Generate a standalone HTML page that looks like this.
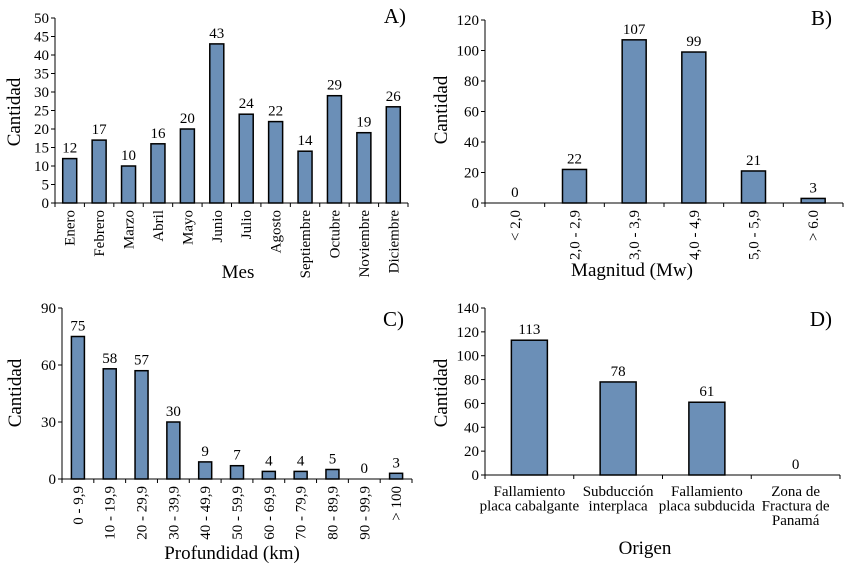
<!DOCTYPE html>
<html><head><meta charset="utf-8"><style>
body{margin:0;background:#fff;}
svg, svg text{font-family:"Liberation Serif","Times New Roman",Times,serif;}
</style></head><body>
<svg id="c" width="850" height="567"></svg>
<script>
const catsA=["Enero","Febrero","Marzo","Abril","Mayo","Junio","Julio","Agosto","Septiembre","Octubre","Noviembre","Diciembre"];
const valsA=[12,17,10,16,20,43,24,22,14,29,19,26];
const ticksA=[0,5,10,15,20,25,30,35,40,45,50];
const catsB=["< 2,0","2,0 - 2,9","3,0 - 3,9","4,0 - 4,9","5,0 - 5,9","> 6.0"];
const valsB=[0,22,107,99,21,3];
const ticksB=[0,20,40,60,80,100,120];
const catsC=["0 - 9,9","10 - 19,9","20 - 29,9","30 - 39,9","40 - 49,9","50 - 59,9","60 - 69,9","70 - 79,9","80 - 89,9","90 - 99,9","> 100"];
const valsC=[75,58,57,30,9,7,4,4,5,0,3];
const ticksC=[0,30,60,90];
const catsD=[["Fallamiento","placa cabalgante"],["Subducción","interplaca"],["Fallamiento","placa subducida"],["Zona de","Fractura de","Panamá"]];
const valsD=[113,78,61,0];
const ticksD=[0,20,40,60,80,100,120,140];

const svg=document.getElementById('c');
const NS="http://www.w3.org/2000/svg";
const FF="'Liberation Serif', 'Times New Roman', serif";
function mk(t,a,txt){const e=document.createElementNS(NS,t);for(const k in a)e.setAttribute(k,a[k]);if(t==='text')e.setAttribute('font-family',FF);if(txt!==undefined)e.textContent=txt;svg.appendChild(e);return e;}

function panel(p){
  const {x0,x1,y0,yTop,max,ticks,cats,vals,bw,rot,key,letter,lx,ly,xt,xtx,xty,ytx,yty}=p;
  const n=cats.length, cw=(x1-x0)/n;
  const ys=v=>y0-(v/max)*(y0-yTop);
  const xs=i=>x0+cw*(i+0.5);
  let e=mk('line',{x1:x0,y1:yTop,x2:x0,y2:y0,stroke:'#000','stroke-width':1});
  
  e=mk('line',{x1:x0,y1:y0,x2:x1,y2:y0,stroke:'#000','stroke-width':1});
  
  ticks.forEach(t=>{
    e=mk('line',{x1:x0-4,y1:ys(t),x2:x0,y2:ys(t),stroke:'#000'});
    
    e=mk('text',{x:x0-6,y:ys(t)+5,'text-anchor':'end','font-size':15},String(t));
    
  });
  for(let i=0;i<=n;i++){
    e=mk('line',{x1:x0+cw*i,y1:y0,x2:x0+cw*i,y2:y0+4,stroke:'#000'});
    
  }
  cats.forEach((c,i)=>{
    const v=vals[i];
    if(v>0){
      e=mk('rect',{x:xs(i)-bw/2,y:ys(v),width:bw,height:y0-ys(v),fill:'#6b8fb7',stroke:'#000','stroke-width':1.5});
      
    }
    e=mk('text',{x:xs(i),y:ys(v)-6,'text-anchor':'middle','font-size':15},String(v));
    
    if(rot){
      e=mk('text',{x:0,y:0,'text-anchor':'end','font-size':15,transform:`translate(${xs(i)+5},${y0+7}) rotate(-90)`},c);
    } else {
      e=mk('text',{x:xs(i),y:y0+21,'text-anchor':'middle','font-size':15});
      c.forEach((ln,j)=>{const ts=document.createElementNS(NS,'tspan');ts.setAttribute('x',xs(i));ts.setAttribute('dy',j?14.5:0);ts.textContent=ln;e.appendChild(ts);});
    }
    
  });
  e=mk('text',{x:0,y:0,'text-anchor':'middle','font-size':19,transform:`translate(${ytx},${yty}) rotate(-90)`},'Cantidad');
  
  e=mk('text',{x:xtx,y:xty,'text-anchor':'middle','font-size':19},xt);
  
  e=mk('text',{x:lx,y:ly,'text-anchor':'end','font-size':21},letter);
  
}
panel({key:'a',x0:55,x1:408,y0:203,yTop:18,max:50,ticks:ticksA,cats:catsA,vals:valsA,bw:14,rot:true,letter:'A)',lx:406,ly:23,xt:'Mes',xtx:238,xty:278,ytx:20,yty:112});
panel({key:'b',x0:485,x1:843,y0:203,yTop:20,max:120,ticks:ticksB,cats:catsB,vals:valsB,bw:24,rot:true,letter:'B)',lx:832,ly:25,xt:'Magnitud  (Mw)',xtx:632,xty:276,ytx:447,yty:110});
panel({key:'c',x0:62,x1:412,y0:479,yTop:308,max:90,ticks:ticksC,cats:catsC,vals:valsC,bw:13,rot:true,letter:'C)',lx:404,ly:326,xt:'Profundidad (km)',xtx:232,xty:559,ytx:21,yty:393});
panel({key:'d',x0:485,x1:840,y0:475,yTop:308,max:140,ticks:ticksD,cats:catsD,vals:valsD,bw:36,rot:false,letter:'D)',lx:832,ly:326,xt:'Origen',xtx:645,xty:554,ytx:447,yty:393});
</script>
</body></html>
